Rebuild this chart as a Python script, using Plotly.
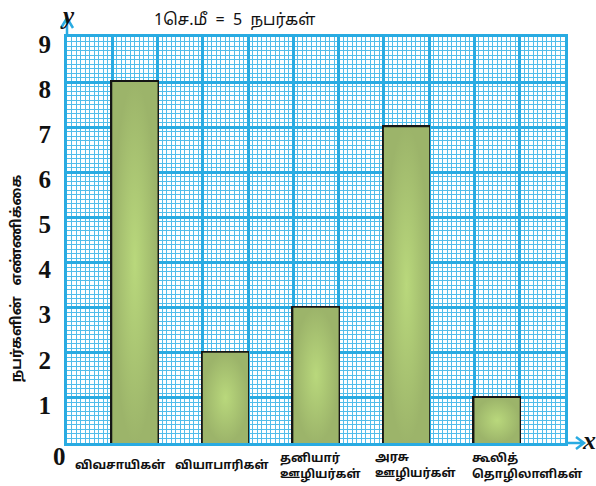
import plotly.graph_objects as go

categories = ["விவசாயிகள்", "வியாபாரிகள்", "தனியார்<br>ஊழியர்கள்", "அரசு<br>ஊழியர்கள்", "கூலித்<br>தொழிலாளிகள்"]
values = [8, 2, 3, 7, 1]
y_ticks = [1, 2, 3, 4, 5, 6, 7, 8, 9]
title_text = "1செ.மீ\u00a0\u00a0=\u00a0\u00a05\u00a0\u00a0நபர்கள்"
y_title = "நபர்களின்\u00a0\u00a0\u00a0எண்ணிக்கை"

# style
label_shift = [-15, -3, 4, 9, 30]
MAJOR = "#29abe2"
MINOR = "#52bdea"
BAR_EDGE = "#9cb46a"
BAR_CENTER = "#b9d87c"
TAMIL_FONT = "Noto Sans Tamil, Lohit Tamil, Latha, Noto Sans, sans-serif"

xs = [2 * i + 1.5 for i in range(len(values))]

fig = go.Figure()

# gradient fills for bars
for x, v in zip(xs, values):
    fig.add_trace(go.Scatter(
        x=[x - 0.5, x - 0.5, x + 0.5, x + 0.5, x - 0.5],
        y=[0, v, v, 0, 0],
        mode="lines", line=dict(width=0),
        fill="toself",
        fillgradient=dict(type="radial", colorscale=[[0, BAR_CENTER], [1, BAR_EDGE]]),
        hoverinfo="skip", showlegend=False,
    ))

fig.add_trace(go.Bar(
    x=xs, y=values, width=1,
    marker=dict(color="rgba(0,0,0,0)", line=dict(color="#151515", width=3)),
    showlegend=False,
))

fig.update_layout(
    width=596, height=486,
    margin=dict(l=67, r=31, t=37, b=43),
    paper_bgcolor="white", plot_bgcolor="white",
    xaxis=dict(range=[0, 11], dtick=1, tick0=0, showgrid=True, gridcolor=MAJOR, gridwidth=2.5,
               showticklabels=False, ticks="", zeroline=False,
               showline=True, linecolor=MAJOR, linewidth=3, mirror=True,
               minor=dict(dtick=0.1, tick0=0, showgrid=True, gridcolor=MINOR, gridwidth=1),
               fixedrange=True),
    yaxis=dict(range=[0, 9], tickvals=y_ticks, showgrid=True, gridcolor=MAJOR, gridwidth=2.5,
               ticks="", zeroline=False,
               showline=True, linecolor=MAJOR, linewidth=3, mirror=True,
               minor=dict(dtick=0.1, tick0=0, showgrid=True, gridcolor=MINOR, gridwidth=1),
               tickfont=dict(family="Liberation Serif", size=25, color="#111111", weight="bold"),
               ticklabelshift=7, ticklabelstandoff=8,
               fixedrange=True),
    bargap=0,
)

annotations = []
for x, lab, sh in zip(xs, categories, label_shift):
    two = "<br>" in lab
    annotations.append(dict(
        x=x, y=0, xref="x", yref="paper", text=lab, showarrow=False,
        xanchor="center", yanchor="top", align="left", xshift=sh, yshift=-6 if two else -13,
        font=dict(family=TAMIL_FONT, size=12, color="#111111", weight="bold"),
    ))
annotations.append(dict(x=0, y=0, xref="paper", yref="paper", text="0", showarrow=False,
                        xanchor="center", yanchor="middle", xshift=-8, yshift=-13,
                        font=dict(family="Liberation Serif", size=25, color="#111111", weight="bold")))
annotations.append(dict(x=(152 - 67) / 498, y=1, xref="paper", yref="paper", text=title_text,
                        showarrow=False, xanchor="left", yanchor="middle", yshift=16,
                        font=dict(family=TAMIL_FONT, size=16, color="#111111")))
annotations.append(dict(x=0, y=0.406, xref="paper", yref="paper", text=y_title, textangle=-90,
                        showarrow=False, xanchor="center", yanchor="middle", xshift=-50,
                        font=dict(family=TAMIL_FONT, size=14, color="#111111", weight="bold")))
annotations.append(dict(x=0, y=1, xref="paper", yref="paper", text="<i>y</i>", showarrow=False,
                        xanchor="center", yanchor="middle", xshift=0, yshift=22,
                        font=dict(family="Liberation Serif", size=25, color="#111111", weight="bold")))
annotations.append(dict(x=1, y=0, xref="paper", yref="paper", text="<i>x</i>", showarrow=False,
                        xanchor="center", yanchor="middle", xshift=24, yshift=3,
                        font=dict(family="Liberation Serif", size=26, color="#111111", weight="bold")))
fig.update_layout(annotations=annotations)

fig.update_layout(shapes=[
    dict(type="path", xref="paper", yref="paper", xsizemode="pixel", ysizemode="pixel",
         xanchor=0, yanchor=1, path="M0,0 L0,19 M-6,9 L0,19 L6,9",
         line=dict(color=MAJOR, width=2.5)),
    dict(type="path", xref="paper", yref="paper", xsizemode="pixel", ysizemode="pixel",
         xanchor=1, yanchor=0, path="M0,0 L19,0 M11,6 L19,0 L11,-6",
         line=dict(color=MAJOR, width=2.5)),
])

fig.write_html("out.html", config={"displayModeBar": False},
               post_script="document.body.style.margin='0px';")
